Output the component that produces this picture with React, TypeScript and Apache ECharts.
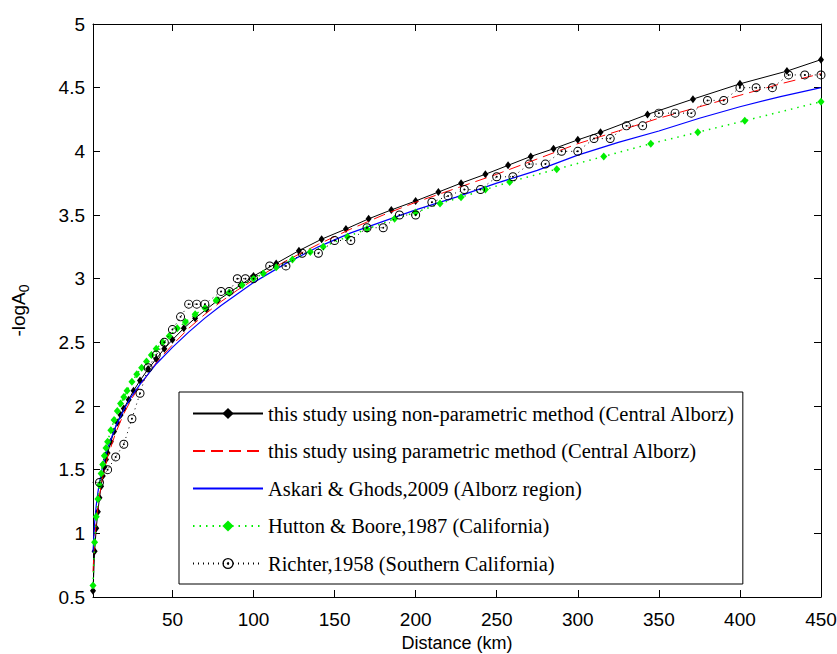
import React, { useEffect, useRef } from "react";
import * as echarts from "echarts";

// ---- data ----
const xTickValues = [50, 100, 150, 200, 250, 300, 350, 400, 450];

const seriesNames = [
  "this study using non-parametric method (Central Alborz)",
  "this study using parametric method (Central Alborz)",
  "Askari & Ghods,2009 (Alborz region)",
  "Hutton & Boore,1987 (California)",
  "Richter,1958 (Southern California)",
];

const nonParDist = [1, 2, 3, 4, 5, 6, 7, 8, 9, 10, 12, 14, 16, 18, 20, 23, 26, 30, 35, 40, 45, 50, 57, 64, 71, 78, 85, 92, 100, 114, 128, 142, 157, 171, 185, 200, 214, 228, 243, 257, 271, 285, 300, 314, 343, 371, 400, 429, 450];
const nonParVal = [0.55, 0.86, 1.04, 1.17, 1.28, 1.37, 1.45, 1.52, 1.58, 1.63, 1.72, 1.8, 1.87, 1.93, 1.98, 2.05, 2.12, 2.2, 2.29, 2.37, 2.45, 2.52, 2.61, 2.69, 2.76, 2.83, 2.89, 2.95, 3.02, 3.12, 3.22, 3.31, 3.39, 3.47, 3.54, 3.61, 3.68, 3.75, 3.82, 3.89, 3.96, 4.02, 4.09, 4.15, 4.29, 4.41, 4.53, 4.63, 4.72];

const parDist = [1, 2, 3, 5, 7, 10, 15, 20, 25, 30, 40, 50, 60, 70, 80, 90, 100, 120, 140, 160, 180, 200, 225, 250, 275, 300, 325, 350, 375, 400, 425, 450];
const parVal = [0.7, 0.95, 1.1, 1.3, 1.44, 1.6, 1.79, 1.94, 2.06, 2.16, 2.34, 2.48, 2.61, 2.72, 2.82, 2.91, 2.99, 3.14, 3.27, 3.39, 3.5, 3.6, 3.71, 3.82, 3.94, 4.06, 4.16, 4.26, 4.35, 4.44, 4.53, 4.61];

const askariDist = [1, 2, 3, 4, 5, 7, 10, 15, 20, 25, 30, 40, 50, 60, 70, 80, 90, 100, 120, 140, 160, 180, 200, 225, 250, 275, 300, 325, 350, 375, 400, 425, 450];
const askariVal = [0.85, 1.08, 1.22, 1.32, 1.4, 1.53, 1.67, 1.84, 1.97, 2.08, 2.17, 2.33, 2.46, 2.58, 2.69, 2.79, 2.88, 2.97, 3.12, 3.25, 3.36, 3.45, 3.54, 3.64, 3.75, 3.85, 3.97, 4.07, 4.16, 4.26, 4.35, 4.43, 4.5];

const huttonDist = [1, 2, 3, 4, 5, 6, 7, 8, 9, 10, 12, 14, 16, 18, 20, 22, 25, 28, 31, 34, 37, 40, 44, 48, 53, 58, 64, 70, 77, 85, 93, 100, 106, 114, 124, 135, 143, 158, 170, 187, 200, 215, 228, 243, 258, 287, 316, 345, 374, 403, 450];
const huttonVal = [0.59, 0.93, 1.13, 1.27, 1.38, 1.47, 1.54, 1.61, 1.67, 1.72, 1.81, 1.89, 1.96, 2.02, 2.07, 2.12, 2.19, 2.25, 2.3, 2.35, 2.4, 2.45, 2.5, 2.55, 2.61, 2.66, 2.72, 2.77, 2.83, 2.89, 2.95, 3.0, 3.04, 3.09, 3.15, 3.21, 3.25, 3.33, 3.39, 3.47, 3.52, 3.59, 3.64, 3.7, 3.76, 3.86, 3.96, 4.06, 4.15, 4.24, 4.39];

const richterDist = [0, 5, 10, 15, 20, 25, 30, 35, 40, 45, 50, 55, 60, 65, 70, 80, 85, 90, 95, 100, 110, 120, 130, 140, 150, 160, 170, 180, 190, 200, 210, 220, 230, 240, 250, 260, 270, 280, 290, 300, 310, 320, 330, 340, 350, 360, 370, 380, 390, 400, 410, 420, 430, 440, 450];
const richterVal = [1.4, 1.4, 1.5, 1.6, 1.7, 1.9, 2.1, 2.3, 2.4, 2.5, 2.6, 2.7, 2.8, 2.8, 2.8, 2.9, 2.9, 3.0, 3.0, 3.0, 3.1, 3.1, 3.2, 3.2, 3.3, 3.3, 3.4, 3.4, 3.5, 3.5, 3.6, 3.65, 3.7, 3.7, 3.8, 3.8, 3.9, 3.9, 4.0, 4.0, 4.1, 4.1, 4.2, 4.2, 4.3, 4.3, 4.3, 4.4, 4.4, 4.5, 4.5, 4.5, 4.6, 4.6, 4.6];

const pairs = (xs: number[], ys: number[]) => xs.map((x, i) => [x, ys[i]]);

const SANS = '"Liberation Sans", Arial, Helvetica, sans-serif';
const SERIF = '"Liberation Serif", "Times New Roman", serif';

const ringDot =
  "path://M0,-5A5,5 0 1,1 0,5A5,5 0 1,1 0,-5Z M0,-3.9A3.9,3.9 0 1,0 0,3.9A3.9,3.9 0 1,0 0,-3.9Z M0,-1.1A1.1,1.1 0 1,1 0,1.1A1.1,1.1 0 1,1 0,-1.1Z";

export default function App() {
  const ref = useRef<HTMLDivElement>(null);
  useEffect(() => {
    document.body.style.margin = "0";
    if (!ref.current) return;
    const chart = echarts.init(ref.current, undefined, { renderer: "svg" });
    const axisLine = { show: true, onZero: false, lineStyle: { color: "#000", width: 1 } };
    const tick = { show: true, inside: true, length: 7, lineStyle: { color: "#000" } };
    const hiddenSymbol = { color: "rgba(0,0,0,0)", borderWidth: 0, opacity: 0 };
    chart.setOption({
      animation: false,
      backgroundColor: "#fff",
      grid: { left: 93, right: 16, top: 24, bottom: 57, containLabel: false, outerBoundsMode: "none" },
      xAxis: [
        {
          type: "value",
          min: 1,
          max: 450,
          position: "bottom",
          axisLine,
          axisTick: { ...tick, customValues: xTickValues },
          axisLabel: { customValues: xTickValues, fontFamily: SANS, fontSize: 19, color: "#000", margin: 13 },
          splitLine: { show: false },
          name: "Distance (km)",
          nameLocation: "middle",
          nameGap: 35,
          nameTextStyle: { fontFamily: SANS, fontSize: 18, color: "#000", lineHeight: 18 },
        },
        {
          type: "value",
          min: 1,
          max: 450,
          position: "top",
          axisLine,
          axisTick: { ...tick, customValues: xTickValues },
          axisLabel: { show: false },
          splitLine: { show: false },
        },
      ],
      yAxis: [
        {
          type: "value",
          min: 0.5,
          max: 5,
          interval: 0.5,
          position: "left",
          axisLine,
          axisTick: tick,
          axisLabel: { fontFamily: SANS, fontSize: 19, color: "#000", margin: 8, showMinLabel: true, showMaxLabel: true },
          splitLine: { show: false },
          name: "{a|-logA}{b|0}",
          nameLocation: "middle",
          nameRotate: 90,
          nameGap: 62,
          nameTextStyle: {
            rich: {
              a: { fontFamily: SANS, fontSize: 19, color: "#000" },
              b: { fontFamily: SANS, fontSize: 14, color: "#000", padding: [12, 0, 0, 0] },
            },
          },
        },
        {
          type: "value",
          min: 0.5,
          max: 5,
          interval: 0.5,
          position: "right",
          axisLine,
          axisTick: tick,
          axisLabel: { show: false },
          splitLine: { show: false },
        },
      ],
      legend: {
        orient: "vertical",
        left: 179,
        top: 392,
        padding: [11, 8, 10, 13],
        itemGap: 16.5,
        itemWidth: 70,
        itemHeight: 14,
        borderColor: "#000",
        borderWidth: 1,
        borderRadius: 0,
        backgroundColor: "#fff",
        selectedMode: false,
        textStyle: { fontFamily: SERIF, fontSize: 20.5, color: "#000", lineHeight: 20 },
        data: [
          { name: seriesNames[0] },
          { name: seriesNames[1], itemStyle: hiddenSymbol },
          { name: seriesNames[2], itemStyle: hiddenSymbol },
          { name: seriesNames[3] },
          { name: seriesNames[4] },
        ],
      },
      series: [
        {
          name: seriesNames[0],
          type: "line",
          data: pairs(nonParDist, nonParVal),
          symbol: "diamond",
          symbolSize: [6, 8],
          itemStyle: { color: "#000" },
          lineStyle: { color: "#000", width: 1 },
          z: 3,
        },
        {
          name: seriesNames[1],
          type: "line",
          data: pairs(parDist, parVal),
          symbol: "none",
          itemStyle: { color: "#ff0000" },
          lineStyle: { color: "#ff0000", width: 1, type: [12, 6] },
          z: 4,
        },
        {
          name: seriesNames[2],
          type: "line",
          data: pairs(askariDist, askariVal),
          symbol: "none",
          itemStyle: { color: "#0000ff" },
          lineStyle: { color: "#0000ff", width: 1.2 },
          z: 5,
        },
        {
          name: seriesNames[3],
          type: "line",
          data: pairs(huttonDist, huttonVal),
          symbol: "diamond",
          symbolSize: [7, 8],
          itemStyle: { color: "#00ee00" },
          lineStyle: { color: "#00ee00", width: 1.5, type: [1.5, 5] },
          z: 6,
        },
        {
          name: seriesNames[4],
          type: "line",
          data: pairs(richterDist, richterVal),
          symbol: ringDot,
          symbolSize: 9,
          itemStyle: { color: "#000" },
          lineStyle: { color: "#000", width: 1, type: [1, 4] },
          z: 7,
        },
      ],
    });
    return () => chart.dispose();
  }, []);
  return <div ref={ref} style={{ width: 837, height: 654 }} />;
}
